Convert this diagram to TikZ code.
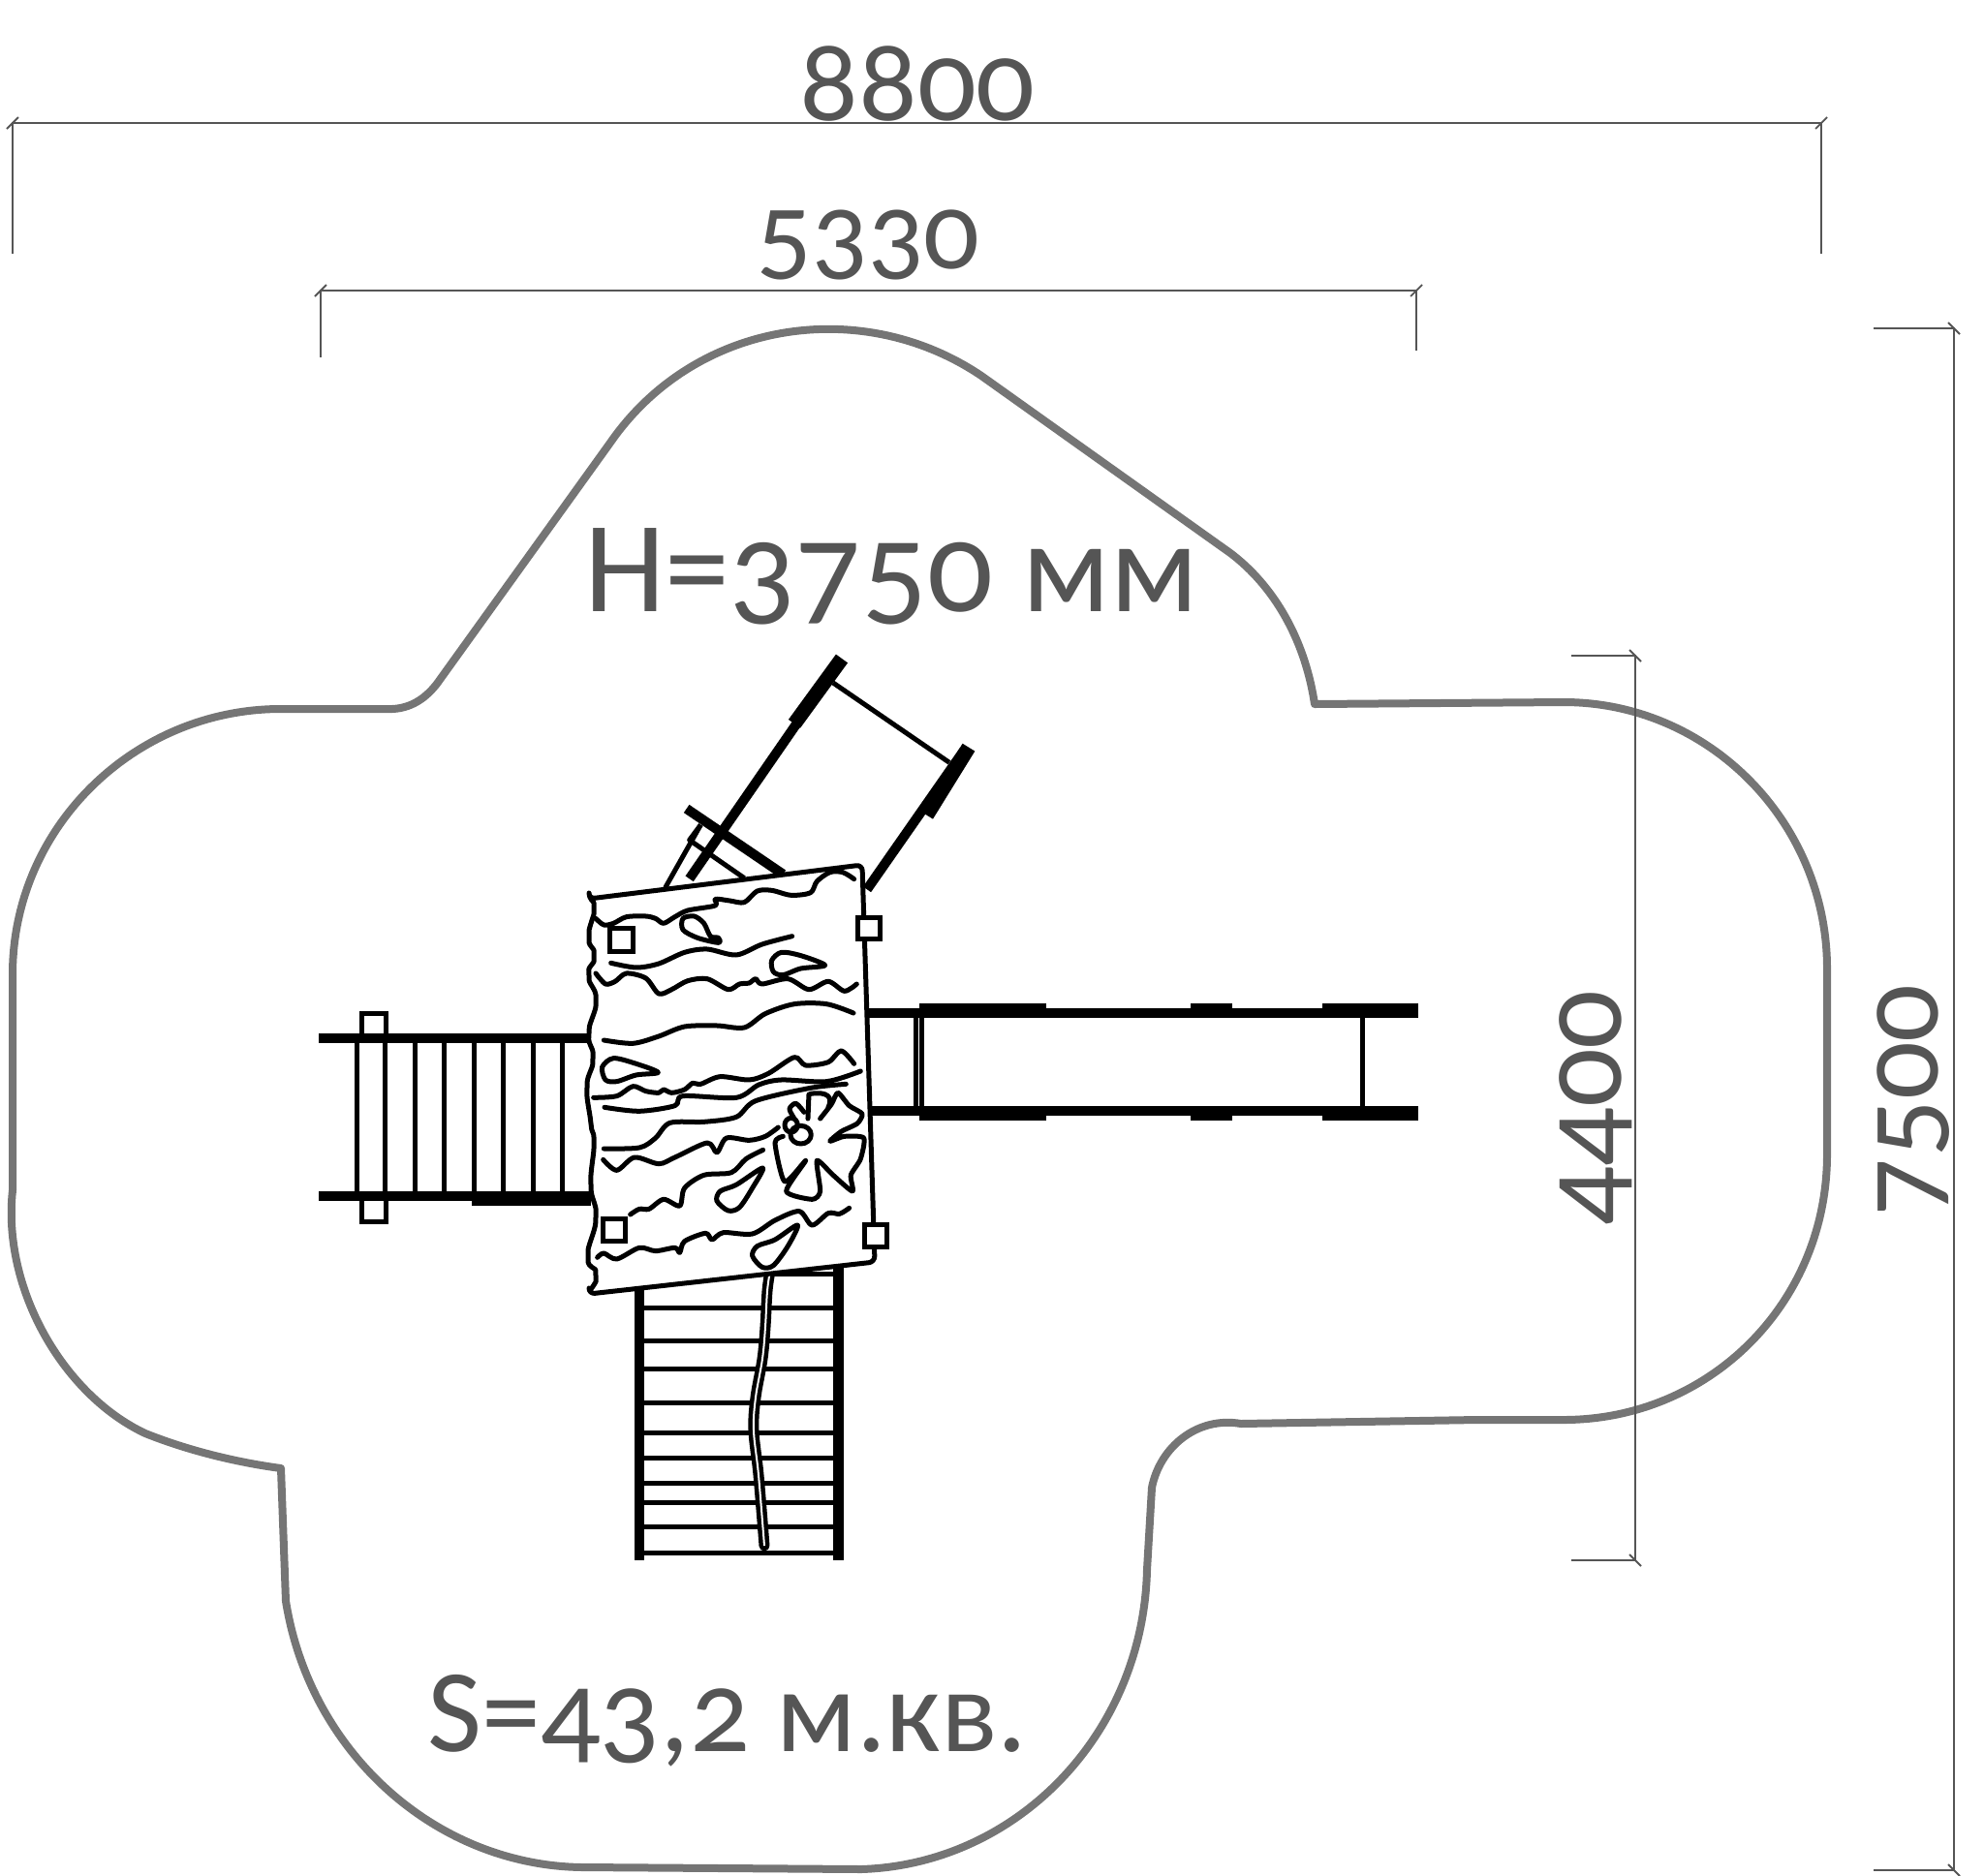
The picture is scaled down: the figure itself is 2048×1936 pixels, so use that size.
\documentclass[tikz,border=0pt]{standalone}
\usepackage{fontspec}
\setmainfont[Numbers=OldStyle]{Carlito}
\definecolor{outl}{RGB}{117,117,117}
\definecolor{dimc}{RGB}{85,85,85}
\tikzset{
	arealine/.style={draw=outl, line width=8pt, line join=round},
	dimline/.style={draw=dimc, line width=1.8pt},
	dimtext/.style={text=dimc, anchor=base, inner sep=0pt, font=\fontsize{120}{120}\selectfont},
	bigtext/.style={text=dimc, anchor=base, inner sep=0pt, font=\fontsize{134}{134}\selectfont},
	rail/.style={line width=10pt},
	railthick/.style={line width=15pt},
	bar/.style={line width=5pt},
	wave/.style={line width=5pt, line cap=round, line join=round},
	postbox/.style={draw, line width=5pt, fill=white},
	zoomone/.style={shift={(560,860)}, x=0.3333pt, y=-0.3333pt},
	zoomtwo/.style={shift={(560,1080)}, x=0.3333pt, y=-0.3333pt},
	zoomtop/.style={shift={(620,660)}, x=0.3333pt, y=-0.3333pt}
}
\begin{document}
\begin{tikzpicture}[x=1pt, y=-1pt]
	\useasboundingbox (0,0) rectangle (2048,1936);
	% area
	\draw[arealine] (290,732) .. controls (138,732) and (13,855) .. (13,1006) -- (13,1229)
		.. controls (2,1330) and (65,1440) .. (150,1480) .. controls (195,1498) and (245,1510) .. (290,1516)
		-- (295,1653) .. controls (320,1810) and (450,1926) .. (601,1928) -- (889,1930)
		.. controls (1050,1925) and (1180,1790) .. (1184,1621) -- (1189,1536)
		.. controls (1197,1495) and (1235,1462) .. (1281,1470) -- (1525,1466) -- (1614,1466)
		.. controls (1765,1466) and (1886,1345) .. (1886,1192) -- (1886,1000)
		.. controls (1886,850) and (1765,725) .. (1614,725) -- (1357,727)
		.. controls (1347,660) and (1315,605) .. (1270,571) -- (1013,388)
		.. controls (890,305) and (718,330) .. (630,457) -- (451,706)
		.. controls (437,724) and (420,733) .. (399,732) -- cycle;
	% dimensions
	\draw[dimline] (13,262) -- (13,127) -- (1880,127) -- (1880,262);
	\draw[dimline] (331,369) -- (331,300) -- (1462,300) -- (1462,362);
	\draw[dimline] (1934,339) -- (2017,339) -- (2017,1931) -- (1934,1931);
	\draw[dimline] (1622,677) -- (1688,677) -- (1688,1611) -- (1622,1611);
	\foreach \tx/\ty in {13/127, 1880/127, 331/300, 1462/300}
		\draw[dimline] (\tx-6,\ty+6) -- (\tx+6,\ty-6);
	\foreach \tx/\ty in {2017/339, 2017/1931, 1688/677, 1688/1611}
		\draw[dimline] (\tx-6,\ty-6) -- (\tx+6,\ty+6);
	\node[dimtext] at (947,124) (wholewidth) {8800};
	\node[dimtext, font=\fontsize{114}{114}\selectfont] at (896,277) (setwidth) {5330};
	\node[dimtext, rotate=90] at (1673,1144) (setheight) {4400};
	\node[dimtext, font=\fontsize{118}{118}\selectfont, rotate=90] at (2000,1136) (wholeheight) {7500};
	\node[bigtext] at (920,631) (hlabel) {H=3750 мм};
	\node[bigtext, font=\fontsize{122}{122}\selectfont] at (751,1808) (slabel) {S=43,2 м.кв.};
	% left ladder
	\foreach \sx in {368,397,428,458,489,519,550,580}
		\draw[bar] (\sx,1072) -- (\sx,1235);
	\draw[postbox] (373,1046) rectangle (398,1072);
	\draw[postbox] (373,1235) rectangle (398,1261);
	\draw[rail] (329,1072) -- (610,1072);
	\draw[rail] (329,1235) -- (610,1235);
	\draw[rail] (487,1240) -- (610,1240);
	% slide
	\draw[bar] (945,1046) -- (945,1147);
	\draw[bar] (951,1046) -- (951,1147);
	\draw[bar] (1406,1046) -- (1406,1147);
	\draw[rail] (895,1046) -- (1464,1046);
	\draw[rail] (895,1147) -- (1464,1147);
	\foreach \ya in {1043.5, 1149.5} {
		\draw[railthick] (949,\ya) -- (1080,\ya);
		\draw[railthick] (1229,\ya) -- (1272,\ya);
		\draw[railthick] (1365,\ya) -- (1464,\ya);
	}
	% tower
	\begin{scope}[zoomtop]
		\draw[bar] (720,135) -- (1080,382);
		\draw[bar] (200,770) -- (310,575);
		\draw[bar, line join=round] (310,575) -- (275,622) -- (445,740);
		\draw[rail] (745,62) -- (275,742);
		\draw[railthick] (747,60) -- (600,262);
		\draw[rail] (266,525) -- (565,728);
		\draw[rail] (1125,345) -- (825,775);
		\draw[railthick] (1140,335) -- (1010,545);
	\end{scope}
	% bottom ladder
	\foreach \ry in {1315,1350,1384,1413,1448,1479,1505,1531,1551,1576,1603}
		\draw[bar] (660,\ry) -- (865,\ry);
	\draw[rail] (660,1325) -- (660,1611);
	\draw[rail, line width=11pt] (865,1300) -- (865,1611);
	% rope
	\draw[line width=11pt, line cap=round] plot[smooth, tension=.6] coordinates {(795,1312) (792,1333) (790,1370) (787,1403) (780,1443) (778,1477) (783,1523) (789,1596)};
	\draw[line width=2pt, white] plot[smooth, tension=.6] coordinates {(795,1312) (792,1333) (790,1370) (787,1403) (780,1443) (778,1477) (783,1523) (789,1596)};
	% wall
	\draw[wave, rounded corners=6pt, fill=white] plot[smooth, tension=.6] coordinates {(608,928) (613,938) (608,967) (613,987) (608,1007) (615,1033) (608,1067) (612,1093) (606,1123) (610,1160) (613,1180) (610,1223) (615,1257) (607,1297) (615,1317) (608,1336)} -- (903,1303) -- (890,893) -- cycle;
	\begin{scope}[zoomone]
		\draw[wave] plot[smooth, tension=.5] coordinates {(165,265) (190,285) (220,280) (260,260) (320,258) (350,265) (375,280) (410,260) (450,240) (535,225) (535,205) (580,210) (625,215) (665,180) (710,178) (770,193) (830,185) (850,150) (890,122) (930,122) (965,143)};
		\draw[wave] plot[smooth cycle, tension=.5] coordinates {(545,340) (480,325) (435,300) (435,265) (470,258) (500,280) (520,320) (545,325)};
		\draw[wave] plot[smooth, tension=.5] coordinates {(212,403) (290,417) (360,405) (440,370) (510,360) (600,378) (680,345) (773,320)};
		\draw[wave] plot[smooth cycle, tension=.5] coordinates {(875,410) (800,380) (740,370) (710,395) (715,430) (745,440) (800,420)};
		\draw[wave] plot[smooth, tension=.5] coordinates {(165,435) (195,468) (225,460) (260,435) (320,450) (360,498) (400,485) (450,458) (510,452) (575,485) (610,468) (640,465) (660,452) (680,468) (760,452) (825,485) (885,460) (935,490) (973,468)};
		\draw[wave] plot[smooth, tension=.5] coordinates {(190,642) (280,652) (360,630) (440,600) (540,597) (625,603) (690,560) (780,530) (880,530) (963,558)};
		\draw[wave] plot[smooth cycle, tension=.5] coordinates {(358,742) (290,715) (220,698) (185,725) (195,765) (230,770) (290,750)};
		\draw[wave] plot[smooth, tension=.5] coordinates {(158,820) (230,815) (280,785) (320,800) (360,805) (375,795) (400,805) (440,795) (465,775) (490,778) (550,755) (640,765) (700,745) (780,695) (815,720) (885,710) (925,675) (965,715)};
		\draw[wave] plot[smooth, tension=.5] coordinates {(192,850) (300,862) (410,845) (435,815) (600,820) (670,780) (740,765) (880,770) (985,738)};
	\end{scope}
	\begin{scope}[zoomtwo]
		\draw[wave] plot[smooth, tension=.5] coordinates {(940,118) (830,130) (660,170) (600,220) (500,235) (395,238) (350,285) (300,315) (190,318)};
		\draw[wave] plot[smooth, tension=.5] coordinates {(188,352) (230,385) (285,345) (360,365) (410,345) (510,300) (540,330) (570,285) (640,292) (690,280) (730,252)};
		\draw[wave] plot[smooth, tension=.5] coordinates {(272,522) (300,505) (330,505) (375,475) (425,495) (440,440) (500,400) (585,392) (630,350) (683,322)};
		\draw[wave] plot[smooth cycle, tension=.5] coordinates {(682,378) (600,430) (550,450) (540,480) (575,510) (610,500) (650,440)};
		\draw[wave] plot[smooth, tension=.5] coordinates {(170,655) (190,642) (230,660) (300,625) (350,635) (410,625) (425,640) (440,605) (505,580) (525,600) (560,578) (650,582) (720,540) (795,512) (835,555) (885,518) (920,520) (950,502)};
		\draw[wave] plot[smooth cycle, tension=.5] coordinates {(790,555) (720,600) (665,620) (650,650) (680,685) (715,680) (760,620)};
		% flower
		\draw[wave] plot[smooth, tension=.4] coordinates {(860,225) (895,180) (915,145) (950,185) (990,210) (975,240) (925,265) (890,295) (935,280) (995,285) (985,350) (955,400) (960,450) (900,400) (850,355) (860,450) (835,475) (755,450) (815,355) (750,420) (720,300) (745,280)};
		\draw[wave] (825,150) -- (822,225);
		\draw[wave] (830,148) .. controls (885,140) and (900,160) .. (885,190);
		\draw[wave] (800,275) ellipse [x radius=32, y radius=28];
		\draw[wave] (770,245) ellipse [x radius=20, y radius=22];
		\draw[wave] plot[smooth, tension=.5] coordinates {(780,225) (765,195) (785,178) (810,205)};
	\end{scope}
	% posts on the wall
	\draw[postbox] (629,958) rectangle (653,982);
	\draw[postbox] (885,947) rectangle (908,969);
	\draw[postbox] (622,1258) rectangle (645,1281);
	\draw[postbox] (892,1264) rectangle (915,1287);
\end{tikzpicture}
\end{document}
